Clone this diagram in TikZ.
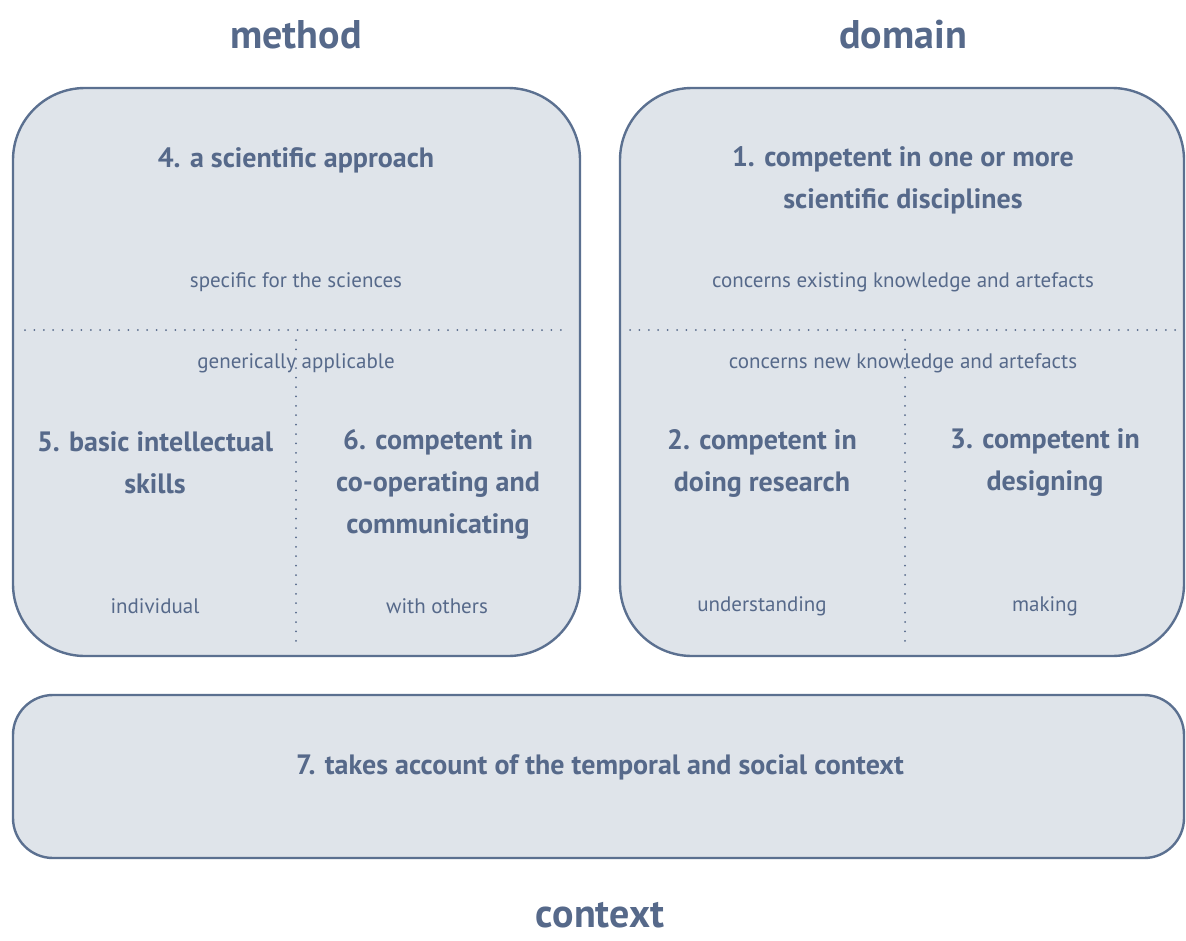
\documentclass[tikz,border=0pt]{standalone}
\usepackage{fontspec}
\setmainfont{PT Sans}
\usepackage{tikz}

\definecolor{slate}{HTML}{56698A}
\definecolor{slateline}{HTML}{5B7090}
\definecolor{slatefill}{HTML}{DFE4EA}

\tikzset{
  panel/.style={draw=slateline, fill=slatefill, line width=2.4pt},
  divider/.style={draw=slate, line width=2pt, dash pattern=on 0pt off 9.4pt, line cap=round},
  heading/.style={text=slate, inner sep=0pt, font=\fontsize{40}{46}\selectfont\bfseries},
  competence/.style={text=slate, font=\fontsize{28}{42}\selectfont\bfseries, align=center},
  remark/.style={text=slate, font=\fontsize{21}{24}\selectfont}
}

\begin{document}
\begin{tikzpicture}[x=1pt,y=-1pt]
\useasboundingbox (0,0) rectangle (1186,940);
% the three panels
\draw[panel, rounded corners=72pt] (13,88) rectangle (580,656);
\draw[panel, rounded corners=72pt] (620,88) rectangle (1184,656);
\draw[panel, rounded corners=40pt] (13,695) rectangle (1184,858);
% dotted splits
\draw[divider] (25,330) -- (570,330);
\draw[divider] (630,330) -- (1180,330);
\draw[divider] (296,340) -- (296,648);
\draw[divider] (905,340) -- (905,648);
% titles
\node[heading] (method) at (296,35) {method};
\node[heading] (domain) at (903,35) {domain};
\node[heading] (context) at (600,915) {context};
% method panel
\node[competence] (c4) at (296,160) {4. a scientific approach};
\node[remark] (specific) at (296,282) {specific for the sciences};
\node[remark] (generic) at (296,363) {generically applicable};
\node[competence] (c5) at (155,463) {5. basic intellectual\\skills};
\node[competence] (c6) at (438,484) {6. competent in\\co-operating and\\communicating};
\node[remark] (individual) at (155,606) {individual};
\node[remark] (others) at (437,606) {with others};
% domain panel
\node[competence] (c1) at (903,180) {1. competent in one or more\\scientific disciplines};
\node[remark] (existing) at (903,282) {concerns existing knowledge and artefacts};
\node[remark] (new) at (903,363) {concerns new knowledge and artefacts};
\node[competence] (c2) at (762,463) {2. competent in\\doing research};
\node[competence] (c3) at (1045,463) {3. competent in\\designing};
\node[remark] (understanding) at (762,606) {understanding};
\node[remark] (making) at (1045,606) {making};
% context panel
\node[competence] (c7) at (600,767) {7. takes account of the temporal and social context};
\end{tikzpicture}
\end{document}
